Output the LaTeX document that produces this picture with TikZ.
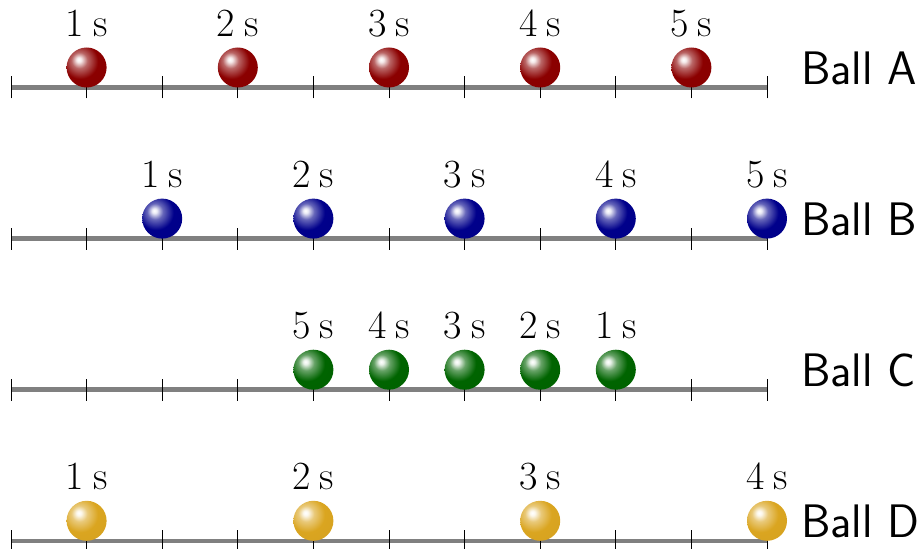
\documentclass[tikz,border=0pt]{standalone}
\usepackage{tikz}
\definecolor{bred}{RGB}{139,0,0}
\definecolor{bblue}{RGB}{0,0,139}
\definecolor{bgreen}{RGB}{0,100,0}
\definecolor{bgold}{RGB}{218,165,32}
\definecolor{axisgray}{RGB}{128,128,128}
\colorlet{ballc}{red}
\pgfdeclareradialshading[ballc]{myball}{\pgfpoint{-10bp}{10bp}}{%
  color(0bp)=(white);
  color(3bp)=(white!92!ballc);
  color(10bp)=(ballc!60!white);
  color(22bp)=(ballc);
  color(50bp)=(ballc!97!black);
  color(100bp)=(ballc!97!black)}
\tikzset{
  axisline/.style={draw=axisgray, line width=4.6bp},
  tickline/.style={draw=black, line width=1bp},
  ballnode/.style={circle, minimum size=40bp, inner sep=0pt,
    /utils/exec={\colorlet{ballc}{#1}}, shading=myball},
  numlab/.style={anchor=base, inner sep=0pt, font=\fontsize{40bp}{48bp}\selectfont},
  rowlab/.style={anchor=base west, inner sep=0pt, font=\fontsize{47bp}{56bp}\selectfont\sffamily}
}
\begin{document}
\begin{tikzpicture}[x=1bp,y=-1bp]
\useasboundingbox (0,0) rectangle (921,549);
% axes and ticks
\foreach \r/\yy in {A/87.5,B/238.6,C/389.7,D/540.8} {
  \coordinate (\r s) at (11,\yy);
  \coordinate (\r e) at (767,\yy);
  \draw[axisline] (\r s) -- (\r e);
  \foreach \k in {0,...,10} {
    \coordinate (\r t\k) at ({11+75.6*\k},\yy);
    \draw[tickline] ([yshift=-11bp]\r t\k) -- ([yshift=11bp]\r t\k);
  }
}
% Ball A
\foreach \k/\n in {1/1,3/2,5/3,7/4,9/5} {
  \node[ballnode=bred] (A\n) at ({11+75.6*\k},67.5) {};
  \node[numlab] (LA\n) at ({11+75.6*\k},36.3) {\n\:s};
}
% Ball B
\foreach \k/\n in {2/1,4/2,6/3,8/4,10/5} {
  \node[ballnode=bblue] (B\n) at ({11+75.6*\k},218.6) {};
  \node[numlab] (LB\n) at ({11+75.6*\k},187.4) {\n\:s};
}
% Ball C
\foreach \k/\n in {4/5,5/4,6/3,7/2,8/1} {
  \node[ballnode=bgreen] (C\n) at ({11+75.6*\k},369.7) {};
  \node[numlab] (LC\n) at ({11+75.6*\k},338.5) {\n\:s};
}
% Ball D
\foreach \k/\n in {1/1,4/2,7/3,10/4} {
  \node[ballnode=bgold] (D\n) at ({11+75.6*\k},520.8) {};
  \node[numlab] (LD\n) at ({11+75.6*\k},489.6) {\n\:s};
}
% row labels
\node[rowlab] (RA) at (801,84.3) {Ball A};
\node[rowlab] (RB) at (801,235.4) {Ball B};
\node[rowlab] (RC) at (801,386.5) {Ball C};
\node[rowlab] (RD) at (801,537.6) {Ball D};
\end{tikzpicture}
\end{document}
